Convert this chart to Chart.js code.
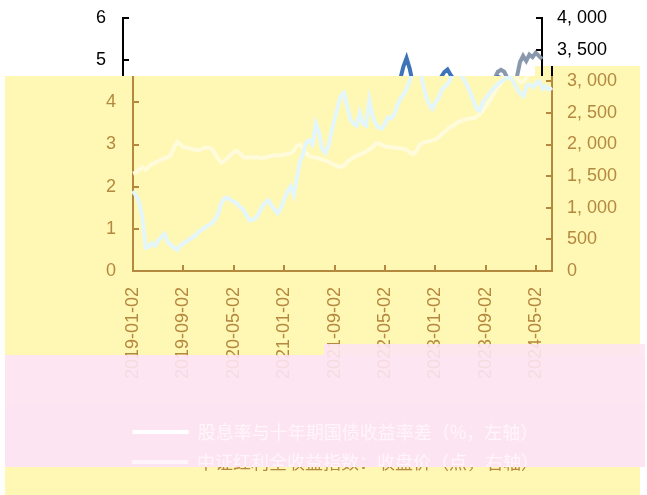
<!DOCTYPE html>
<html>
<head>
<meta charset="utf-8">
<script src="https://cdn.jsdelivr.net/npm/chart.js@4.4.0/dist/chart.umd.min.js"></script>
<style>
  html, body { margin: 0; padding: 0; background: #fff; }
  #wrap { width: 647px; height: 495px; }
</style>
</head>
<body>
<div id="wrap"><canvas id="chart" width="647" height="495"></canvas></div>
<script>
// 日期：每月2日、17日各一个点
const startYear = 2019;
const monthCount = 67;
const dates = [];
for (let m = 0; m < monthCount; m++) {
    const y = startYear + Math.floor(m / 12);
    const mm = String(m % 12 + 1).padStart(2, '0');
    dates.push(`${y}-${mm}-02`, `${y}-${mm}-17`);
}

const seriesNames = [
    '股息率与十年期国债收益率差（%，左轴）',
    '中证红利全收益指数：收盘价（点，右轴）'
];

// 左轴（%）
const spreadValues = [
    1.90, 1.78, 1.62, 1.25, 0.55, 0.58, 0.66, 0.60, 0.72, 0.80,
    0.88, 0.68, 0.62, 0.55, 0.50, 0.60, 0.66, 0.70, 0.76, 0.80,
    0.86, 0.94, 0.98, 1.04, 1.09, 1.13, 1.22, 1.35, 1.60, 1.72,
    1.74, 1.68, 1.64, 1.60, 1.52, 1.45, 1.32, 1.20, 1.22, 1.26,
    1.38, 1.52, 1.62, 1.68, 1.55, 1.45, 1.37, 1.50, 1.70, 1.88,
    2.00, 1.80, 2.20, 2.60, 2.78, 3.05, 3.10, 3.00, 3.50, 3.30,
    2.90, 2.80, 2.95, 3.30, 3.60, 3.90, 4.15, 4.22, 3.90, 3.60,
    3.50, 3.45, 3.75, 3.50, 3.45, 4.05, 3.70, 3.50, 3.40, 3.38,
    3.50, 3.65, 3.62, 3.72, 3.95, 4.10, 4.20, 4.35, 4.55, 4.85,
    5.05, 4.80, 4.45, 4.15, 3.95, 3.85, 4.00, 4.10, 4.30, 4.38,
    4.45, 4.60, 4.72, 4.78, 4.65, 4.55, 4.40, 4.25, 4.05, 3.85,
    3.80, 4.00, 4.10, 4.20, 4.30, 4.38, 4.45, 4.50, 4.55, 4.60,
    4.58, 4.45, 4.30, 4.20, 4.15, 4.40, 4.42, 4.36, 4.45, 4.50,
    4.32, 4.38, 4.30, 4.35
];

// 右轴（点）
const indexValues = [
    1540, 1560, 1600, 1640, 1600, 1650, 1690, 1710, 1740, 1760,
    1780, 1800, 1830, 1950, 2040, 2000, 1960, 1950, 1940, 1920,
    1915, 1910, 1930, 1950, 1950, 1930, 1860, 1780, 1710, 1740,
    1780, 1840, 1880, 1900, 1860, 1800, 1790, 1800, 1790, 1800,
    1790, 1785, 1795, 1810, 1820, 1830, 1825, 1830, 1840, 1850,
    1860, 1900, 1980, 2000, 1940, 1860, 1820, 1800, 1790, 1780,
    1760, 1750, 1730, 1700, 1680, 1660, 1645, 1660, 1720, 1760,
    1800, 1820, 1840, 1860, 1890, 1920, 1960, 2010, 2020, 1990,
    1970, 1960, 1960, 1950, 1945, 1940, 1930, 1910, 1870, 1850,
    1900, 1990, 2030, 2040, 2050, 2070, 2080, 2110, 2170, 2200,
    2250, 2280, 2310, 2350, 2370, 2390, 2400, 2410, 2420, 2435,
    2480, 2540, 2600, 2680, 2760, 2850, 2920, 2980, 3050, 3150,
    3180, 3150, 3050, 2980, 3000, 3060, 3300, 3400, 3320, 3420,
    3380, 3450, 3400, 3350
];

const LABEL_EVERY = 16;

// 截图里的色带
const BAND_TOP = 76;
const BAND_TOP_RIGHT = 66;   // 右侧黄色块起得更高
const RIGHT_EDGE = 545;
const BAND_PINK = 355;
const BAND_LOW = 467;
const SHIFT = 10;
const BROWN = '#b5883f';
const YELLOW = '#fff8b5';
const PINK = '#fde4f2';

const canvas = document.getElementById('chart');
const ctx2d = canvas.getContext('2d');

function bandGradient(top, mid, pink, low) {
    const h = canvas.height;
    const g = ctx2d.createLinearGradient(0, 0, 0, h);
    const a = BAND_TOP / h, b = BAND_PINK / h, c = BAND_LOW / h;
    g.addColorStop(0, top);
    g.addColorStop(a, top);
    g.addColorStop(a, mid);
    g.addColorStop(b, mid);
    g.addColorStop(b, pink);
    g.addColorStop(c, pink);
    g.addColorStop(c, low);
    g.addColorStop(1, low);
    return g;
}

const blueColor = bandGradient('#3d73b8', '#e3f6fc', '#ffffff', '#ffffff');
const greyColor = bandGradient('#8a98ae', '#fffbdb', '#fff4f9', '#fff4f9');
const axisColor = bandGradient('#000000', BROWN, BROWN, BROWN);
const legendText = bandGradient('#000000', BROWN, '#fff5fb', BROWN);

const tickFont = { family: 'Liberation Sans, Arial, sans-serif', size: 18 };

function yTickColor(ctx) {
    const px = ctx.scale.getPixelForValue(ctx.tick.value);
    return px < BAND_TOP ? '#000' : BROWN;
}

// 竖轴不要把刻度间距算进上下留白
function fixYAxis(width) {
    return scale => {
        scale.width = width;
        scale.paddingTop = 0;
        scale.paddingBottom = 0;
    };
}

const glitchBands = {
    id: 'glitchBands',
    beforeDraw(chart) {
        const ctx = chart.ctx;
        ctx.save();
        ctx.fillStyle = '#fff';
        ctx.fillRect(0, 0, chart.width, chart.height);
        ctx.fillStyle = YELLOW;
        ctx.fillRect(5, BAND_TOP, 635, BAND_PINK - BAND_TOP);
        ctx.fillRect(RIGHT_EDGE, BAND_TOP_RIGHT, 640 - RIGHT_EDGE, BAND_TOP - BAND_TOP_RIGHT);
        ctx.fillRect(5, BAND_LOW, 635, chart.height - BAND_LOW);
        ctx.fillStyle = PINK;
        ctx.fillRect(5, BAND_PINK, 640, BAND_LOW - BAND_PINK);
        ctx.restore();
    },
    afterDraw(chart) {
        const ctx = chart.ctx;
        // 顶部一条往左错位
        const img = ctx.getImageData(SHIFT, 0, chart.width - SHIFT, BAND_TOP_RIGHT);
        ctx.putImageData(img, 0, 0);
        const img2 = ctx.getImageData(SHIFT, BAND_TOP_RIGHT, RIGHT_EDGE, BAND_TOP - BAND_TOP_RIGHT);
        ctx.putImageData(img2, 0, BAND_TOP_RIGHT);
        ctx.save();
        ctx.fillStyle = '#fff';
        ctx.fillRect(chart.width - SHIFT, 0, SHIFT, BAND_TOP_RIGHT);
        // 日期标签下半截被粉色盖住
        ctx.globalAlpha = 0.9;
        ctx.fillStyle = PINK;
        ctx.fillRect(5, BAND_PINK, 640, 50);
        ctx.fillRect(324, 344, 321, BAND_PINK - 344);
        ctx.restore();
    }
};

new Chart(canvas, {
    type: 'line',
    data: {
        labels: dates,
        datasets: [
            {
                label: seriesNames[0],
                data: spreadValues,
                yAxisID: 'y',
                borderColor: blueColor,
                backgroundColor: blueColor,
                borderWidth: 4,
                pointRadius: 0,
                tension: 0
            },
            {
                label: seriesNames[1],
                data: indexValues,
                yAxisID: 'y1',
                borderColor: greyColor,
                backgroundColor: greyColor,
                borderWidth: 4,
                pointRadius: 0,
                tension: 0
            }
        ]
    },
    options: {
        responsive: false,
        animation: false,
        layout: { padding: { top: 18, bottom: 14, left: 24, right: 0 } },
        plugins: {
            legend: {
                position: 'bottom',
                labels: {
                    boxWidth: 56,
                    boxHeight: 0,
                    padding: 12,
                    color: legendText,
                    font: { family: 'Noto Sans CJK SC', size: 18 }
                }
            },
            tooltip: { enabled: false }
        },
        scales: {
            x: {
                offset: false,
                grid: {
                    drawOnChartArea: false,
                    tickLength: -6,
                    lineWidth: 2,
                    color: ctx => (ctx.index % LABEL_EVERY === 0 ? BROWN : 'rgba(0,0,0,0)')
                },
                border: { color: BROWN, width: 2 },
                ticks: {
                    autoSkip: false,
                    minRotation: 90,
                    maxRotation: 90,
                    padding: 22,
                    color: BROWN,
                    font: tickFont,
                    callback: (val, idx) => (idx % LABEL_EVERY === 0 ? dates[idx] : '')
                },
                afterFit: scale => { scale.height = 140; }
            },
            y: {
                position: 'left',
                min: 0,
                max: 6,
                grid: { drawOnChartArea: false, tickLength: -6, lineWidth: 2, color: axisColor },
                border: { color: axisColor, width: 2 },
                ticks: { stepSize: 1, padding: 23, color: yTickColor, font: tickFont },
                afterFit: fixYAxis(109)
            },
            y1: {
                position: 'right',
                min: 0,
                max: 4000,
                grid: { drawOnChartArea: false, tickLength: -6, lineWidth: 2, color: axisColor },
                border: { color: axisColor, width: 2 },
                ticks: {
                    stepSize: 500,
                    padding: 21,
                    color: yTickColor,
                    font: tickFont,
                    callback: v => v.toLocaleString('en-US').replace(',', ', ')
                },
                afterFit: fixYAxis(95)
            }
        }
    },
    plugins: [glitchBands]
});
</script>
</body>
</html>
